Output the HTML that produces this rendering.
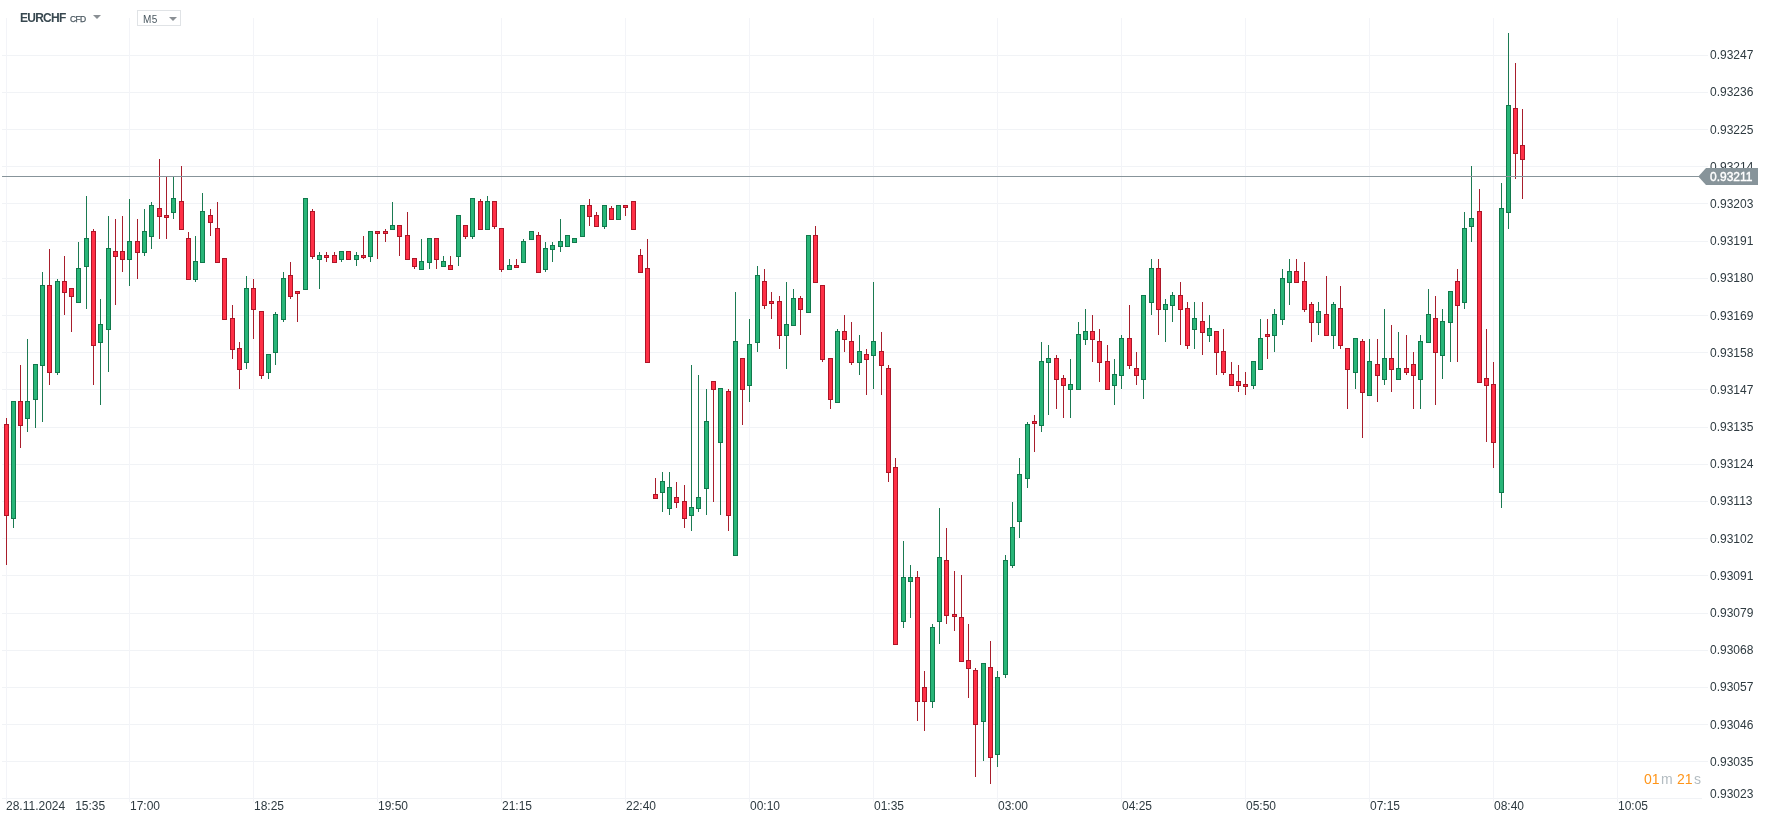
<!DOCTYPE html>
<html><head><meta charset="utf-8"><title>EURCHF M5</title>
<style>
html,body{margin:0;padding:0;background:#fff;}
body{width:1770px;height:824px;position:relative;overflow:hidden;font-family:"Liberation Sans",sans-serif;color:#2e3a40;}
.t{position:absolute;font-size:12px;line-height:14px;white-space:nowrap;will-change:transform;}
.pl{left:1710px;}
.tl{top:799px;}
</style></head><body>
<svg width="1770" height="824" viewBox="0 0 1770 824" shape-rendering="crispEdges" style="position:absolute;left:0;top:0">
<g fill="#f1f3f6"><rect x="2" y="55" width="1706" height="1"/><rect x="2" y="92" width="1706" height="1"/><rect x="2" y="129" width="1706" height="1"/><rect x="2" y="166" width="1706" height="1"/><rect x="2" y="203" width="1706" height="1"/><rect x="2" y="241" width="1706" height="1"/><rect x="2" y="278" width="1706" height="1"/><rect x="2" y="315" width="1706" height="1"/><rect x="2" y="352" width="1706" height="1"/><rect x="2" y="389" width="1706" height="1"/><rect x="2" y="427" width="1706" height="1"/><rect x="2" y="464" width="1706" height="1"/><rect x="2" y="501" width="1706" height="1"/><rect x="2" y="538" width="1706" height="1"/><rect x="2" y="575" width="1706" height="1"/><rect x="2" y="613" width="1706" height="1"/><rect x="2" y="650" width="1706" height="1"/><rect x="2" y="687" width="1706" height="1"/><rect x="2" y="724" width="1706" height="1"/><rect x="2" y="761" width="1706" height="1"/><rect x="2" y="798" width="1700" height="1"/><rect x="6" y="18" width="1" height="784" fill="#f3f4f8"/><rect x="129" y="18" width="1" height="784" fill="#f3f4f8"/><rect x="253" y="18" width="1" height="784" fill="#f3f4f8"/><rect x="377" y="18" width="1" height="784" fill="#f3f4f8"/><rect x="501" y="18" width="1" height="784" fill="#f3f4f8"/><rect x="625" y="18" width="1" height="784" fill="#f3f4f8"/><rect x="749" y="18" width="1" height="784" fill="#f3f4f8"/><rect x="873" y="18" width="1" height="784" fill="#f3f4f8"/><rect x="997" y="18" width="1" height="784" fill="#f3f4f8"/><rect x="1121" y="18" width="1" height="784" fill="#f3f4f8"/><rect x="1245" y="18" width="1" height="784" fill="#f3f4f8"/><rect x="1369" y="18" width="1" height="784" fill="#f3f4f8"/><rect x="1493" y="18" width="1" height="784" fill="#f3f4f8"/><rect x="1617" y="18" width="1" height="784" fill="#f3f4f8"/></g>
<g fill="#1b7a52"><rect x="13" y="401" width="1" height="127"/><rect x="27" y="339" width="1" height="93"/><rect x="35" y="364" width="1" height="64"/><rect x="42" y="272" width="1" height="150"/><rect x="57" y="279" width="1" height="96"/><rect x="78" y="242" width="1" height="61"/><rect x="86" y="196" width="1" height="113"/><rect x="100" y="299" width="1" height="106"/><rect x="108" y="216" width="1" height="156"/><rect x="129" y="199" width="1" height="87"/><rect x="144" y="209" width="1" height="47"/><rect x="151" y="202" width="1" height="47"/><rect x="173" y="176" width="1" height="43"/><rect x="195" y="236" width="1" height="46"/><rect x="202" y="193" width="1" height="70"/><rect x="246" y="276" width="1" height="93"/><rect x="268" y="354" width="1" height="25"/><rect x="275" y="312" width="1" height="53"/><rect x="283" y="272" width="1" height="50"/><rect x="305" y="198" width="1" height="92"/><rect x="319" y="252" width="1" height="37"/><rect x="341" y="251" width="1" height="11"/><rect x="356" y="252" width="1" height="14"/><rect x="370" y="231" width="1" height="31"/><rect x="392" y="202" width="1" height="28"/><rect x="421" y="239" width="1" height="31"/><rect x="429" y="238" width="1" height="31"/><rect x="443" y="256" width="1" height="11"/><rect x="458" y="215" width="1" height="51"/><rect x="472" y="198" width="1" height="41"/><rect x="487" y="196" width="1" height="34"/><rect x="509" y="259" width="1" height="11"/><rect x="523" y="239" width="1" height="24"/><rect x="531" y="231" width="1" height="9"/><rect x="545" y="242" width="1" height="30"/><rect x="552" y="242" width="1" height="20"/><rect x="560" y="219" width="1" height="33"/><rect x="567" y="235" width="1" height="12"/><rect x="574" y="238" width="1" height="5"/><rect x="582" y="205" width="1" height="32"/><rect x="604" y="205" width="1" height="24"/><rect x="618" y="205" width="1" height="15"/><rect x="662" y="472" width="1" height="40"/><rect x="669" y="472" width="1" height="43"/><rect x="691" y="365" width="1" height="166"/><rect x="698" y="375" width="1" height="137"/><rect x="706" y="389" width="1" height="126"/><rect x="720" y="388" width="1" height="127"/><rect x="735" y="292" width="1" height="264"/><rect x="749" y="319" width="1" height="83"/><rect x="757" y="266" width="1" height="86"/><rect x="786" y="282" width="1" height="87"/><rect x="793" y="289" width="1" height="37"/><rect x="808" y="235" width="1" height="78"/><rect x="837" y="329" width="1" height="74"/><rect x="859" y="335" width="1" height="40"/><rect x="873" y="282" width="1" height="107"/><rect x="903" y="541" width="1" height="87"/><rect x="910" y="565" width="1" height="53"/><rect x="932" y="624" width="1" height="84"/><rect x="939" y="508" width="1" height="136"/><rect x="983" y="663" width="1" height="98"/><rect x="997" y="671" width="1" height="96"/><rect x="1005" y="555" width="1" height="123"/><rect x="1012" y="502" width="1" height="66"/><rect x="1019" y="458" width="1" height="80"/><rect x="1027" y="422" width="1" height="66"/><rect x="1041" y="342" width="1" height="90"/><rect x="1048" y="345" width="1" height="70"/><rect x="1070" y="359" width="1" height="59"/><rect x="1078" y="322" width="1" height="68"/><rect x="1085" y="309" width="1" height="36"/><rect x="1114" y="359" width="1" height="46"/><rect x="1121" y="335" width="1" height="54"/><rect x="1143" y="295" width="1" height="104"/><rect x="1151" y="259" width="1" height="56"/><rect x="1165" y="299" width="1" height="43"/><rect x="1172" y="292" width="1" height="30"/><rect x="1194" y="302" width="1" height="47"/><rect x="1209" y="315" width="1" height="27"/><rect x="1253" y="361" width="1" height="28"/><rect x="1260" y="319" width="1" height="51"/><rect x="1274" y="309" width="1" height="43"/><rect x="1282" y="269" width="1" height="56"/><rect x="1289" y="259" width="1" height="46"/><rect x="1318" y="302" width="1" height="33"/><rect x="1333" y="302" width="1" height="47"/><rect x="1355" y="338" width="1" height="51"/><rect x="1369" y="339" width="1" height="57"/><rect x="1384" y="309" width="1" height="76"/><rect x="1398" y="332" width="1" height="48"/><rect x="1420" y="335" width="1" height="74"/><rect x="1428" y="289" width="1" height="54"/><rect x="1442" y="309" width="1" height="70"/><rect x="1450" y="291" width="1" height="71"/><rect x="1464" y="212" width="1" height="97"/><rect x="1471" y="166" width="1" height="76"/><rect x="1501" y="183" width="1" height="325"/><rect x="1508" y="33" width="1" height="196"/></g>
<g fill="#a81e2c"><rect x="6" y="418" width="1" height="147"/><rect x="20" y="365" width="1" height="83"/><rect x="49" y="249" width="1" height="136"/><rect x="64" y="256" width="1" height="59"/><rect x="71" y="288" width="1" height="44"/><rect x="93" y="229" width="1" height="156"/><rect x="115" y="219" width="1" height="86"/><rect x="122" y="216" width="1" height="56"/><rect x="137" y="219" width="1" height="60"/><rect x="159" y="159" width="1" height="80"/><rect x="166" y="176" width="1" height="63"/><rect x="181" y="166" width="1" height="64"/><rect x="188" y="232" width="1" height="48"/><rect x="210" y="209" width="1" height="27"/><rect x="217" y="202" width="1" height="61"/><rect x="224" y="258" width="1" height="62"/><rect x="232" y="305" width="1" height="54"/><rect x="239" y="342" width="1" height="47"/><rect x="253" y="279" width="1" height="60"/><rect x="261" y="311" width="1" height="68"/><rect x="290" y="262" width="1" height="37"/><rect x="297" y="291" width="1" height="31"/><rect x="312" y="209" width="1" height="50"/><rect x="326" y="252" width="1" height="10"/><rect x="334" y="252" width="1" height="11"/><rect x="348" y="251" width="1" height="9"/><rect x="363" y="236" width="1" height="23"/><rect x="377" y="231" width="1" height="28"/><rect x="385" y="229" width="1" height="13"/><rect x="399" y="225" width="1" height="31"/><rect x="407" y="212" width="1" height="48"/><rect x="414" y="258" width="1" height="11"/><rect x="436" y="238" width="1" height="31"/><rect x="450" y="256" width="1" height="14"/><rect x="465" y="225" width="1" height="14"/><rect x="480" y="199" width="1" height="31"/><rect x="494" y="201" width="1" height="28"/><rect x="501" y="228" width="1" height="44"/><rect x="516" y="259" width="1" height="9"/><rect x="538" y="232" width="1" height="41"/><rect x="589" y="199" width="1" height="27"/><rect x="596" y="212" width="1" height="15"/><rect x="611" y="206" width="1" height="14"/><rect x="625" y="205" width="1" height="11"/><rect x="633" y="201" width="1" height="29"/><rect x="640" y="249" width="1" height="24"/><rect x="647" y="239" width="1" height="124"/><rect x="655" y="478" width="1" height="21"/><rect x="676" y="482" width="1" height="26"/><rect x="684" y="485" width="1" height="43"/><rect x="713" y="381" width="1" height="121"/><rect x="728" y="389" width="1" height="142"/><rect x="742" y="358" width="1" height="67"/><rect x="764" y="269" width="1" height="40"/><rect x="771" y="292" width="1" height="27"/><rect x="779" y="296" width="1" height="53"/><rect x="800" y="296" width="1" height="39"/><rect x="815" y="226" width="1" height="57"/><rect x="822" y="285" width="1" height="77"/><rect x="830" y="358" width="1" height="51"/><rect x="844" y="315" width="1" height="37"/><rect x="851" y="322" width="1" height="43"/><rect x="866" y="349" width="1" height="46"/><rect x="881" y="332" width="1" height="63"/><rect x="888" y="365" width="1" height="117"/><rect x="895" y="458" width="1" height="187"/><rect x="917" y="571" width="1" height="150"/><rect x="924" y="671" width="1" height="60"/><rect x="946" y="528" width="1" height="96"/><rect x="954" y="571" width="1" height="60"/><rect x="961" y="575" width="1" height="87"/><rect x="968" y="624" width="1" height="74"/><rect x="975" y="668" width="1" height="109"/><rect x="990" y="641" width="1" height="143"/><rect x="1034" y="415" width="1" height="37"/><rect x="1056" y="355" width="1" height="54"/><rect x="1063" y="375" width="1" height="43"/><rect x="1092" y="315" width="1" height="47"/><rect x="1099" y="329" width="1" height="53"/><rect x="1107" y="345" width="1" height="45"/><rect x="1129" y="305" width="1" height="64"/><rect x="1136" y="352" width="1" height="33"/><rect x="1158" y="259" width="1" height="76"/><rect x="1180" y="282" width="1" height="63"/><rect x="1187" y="302" width="1" height="47"/><rect x="1202" y="302" width="1" height="53"/><rect x="1216" y="331" width="1" height="44"/><rect x="1223" y="329" width="1" height="46"/><rect x="1231" y="362" width="1" height="24"/><rect x="1238" y="365" width="1" height="27"/><rect x="1245" y="372" width="1" height="23"/><rect x="1267" y="319" width="1" height="40"/><rect x="1296" y="259" width="1" height="24"/><rect x="1304" y="262" width="1" height="50"/><rect x="1311" y="302" width="1" height="40"/><rect x="1326" y="276" width="1" height="60"/><rect x="1340" y="286" width="1" height="63"/><rect x="1347" y="348" width="1" height="61"/><rect x="1362" y="339" width="1" height="99"/><rect x="1377" y="339" width="1" height="63"/><rect x="1391" y="325" width="1" height="67"/><rect x="1406" y="335" width="1" height="40"/><rect x="1413" y="352" width="1" height="57"/><rect x="1435" y="296" width="1" height="109"/><rect x="1457" y="269" width="1" height="93"/><rect x="1479" y="189" width="1" height="194"/><rect x="1486" y="329" width="1" height="113"/><rect x="1493" y="362" width="1" height="106"/><rect x="1515" y="63" width="1" height="116"/><rect x="1522" y="109" width="1" height="90"/></g>
<g fill="#11794c"><rect x="11" y="401" width="5" height="118"/><rect x="25" y="401" width="5" height="18"/><rect x="33" y="364" width="5" height="36"/><rect x="40" y="285" width="5" height="81"/><rect x="55" y="281" width="5" height="92"/><rect x="76" y="268" width="5" height="35"/><rect x="84" y="238" width="5" height="29"/><rect x="98" y="324" width="5" height="19"/><rect x="106" y="248" width="5" height="82"/><rect x="127" y="241" width="5" height="19"/><rect x="142" y="231" width="5" height="22"/><rect x="149" y="205" width="5" height="32"/><rect x="171" y="198" width="5" height="15"/><rect x="193" y="261" width="5" height="19"/><rect x="200" y="211" width="5" height="52"/><rect x="244" y="288" width="5" height="75"/><rect x="266" y="354" width="5" height="19"/><rect x="273" y="314" width="5" height="39"/><rect x="281" y="278" width="5" height="42"/><rect x="303" y="198" width="5" height="92"/><rect x="317" y="255" width="5" height="5"/><rect x="339" y="251" width="5" height="9"/><rect x="354" y="255" width="5" height="5"/><rect x="368" y="231" width="5" height="26"/><rect x="390" y="225" width="5" height="5"/><rect x="419" y="261" width="5" height="9"/><rect x="427" y="238" width="5" height="25"/><rect x="441" y="261" width="5" height="6"/><rect x="456" y="215" width="5" height="42"/><rect x="470" y="198" width="5" height="39"/><rect x="485" y="201" width="5" height="29"/><rect x="507" y="265" width="5" height="5"/><rect x="521" y="241" width="5" height="22"/><rect x="529" y="231" width="5" height="9"/><rect x="543" y="248" width="5" height="22"/><rect x="550" y="245" width="5" height="5"/><rect x="558" y="241" width="5" height="6"/><rect x="565" y="235" width="5" height="12"/><rect x="572" y="238" width="5" height="5"/><rect x="580" y="205" width="5" height="32"/><rect x="602" y="205" width="5" height="22"/><rect x="616" y="205" width="5" height="15"/><rect x="660" y="481" width="5" height="12"/><rect x="667" y="487" width="5" height="22"/><rect x="689" y="507" width="5" height="9"/><rect x="696" y="497" width="5" height="12"/><rect x="704" y="421" width="5" height="68"/><rect x="718" y="388" width="5" height="55"/><rect x="733" y="341" width="5" height="215"/><rect x="747" y="344" width="5" height="42"/><rect x="755" y="275" width="5" height="68"/><rect x="784" y="324" width="5" height="12"/><rect x="791" y="298" width="5" height="28"/><rect x="806" y="235" width="5" height="78"/><rect x="835" y="331" width="5" height="72"/><rect x="857" y="351" width="5" height="12"/><rect x="871" y="341" width="5" height="15"/><rect x="901" y="577" width="5" height="45"/><rect x="908" y="577" width="5" height="5"/><rect x="930" y="627" width="5" height="75"/><rect x="937" y="557" width="5" height="65"/><rect x="981" y="663" width="5" height="59"/><rect x="995" y="677" width="5" height="78"/><rect x="1003" y="560" width="5" height="115"/><rect x="1010" y="527" width="5" height="39"/><rect x="1017" y="474" width="5" height="48"/><rect x="1025" y="424" width="5" height="55"/><rect x="1039" y="361" width="5" height="65"/><rect x="1046" y="358" width="5" height="5"/><rect x="1068" y="384" width="5" height="6"/><rect x="1076" y="334" width="5" height="56"/><rect x="1083" y="331" width="5" height="9"/><rect x="1112" y="374" width="5" height="12"/><rect x="1119" y="338" width="5" height="38"/><rect x="1141" y="295" width="5" height="85"/><rect x="1149" y="268" width="5" height="35"/><rect x="1163" y="304" width="5" height="6"/><rect x="1170" y="295" width="5" height="11"/><rect x="1192" y="318" width="5" height="12"/><rect x="1207" y="328" width="5" height="8"/><rect x="1251" y="361" width="5" height="25"/><rect x="1258" y="338" width="5" height="32"/><rect x="1272" y="314" width="5" height="22"/><rect x="1280" y="278" width="5" height="42"/><rect x="1287" y="271" width="5" height="12"/><rect x="1316" y="311" width="5" height="12"/><rect x="1331" y="304" width="5" height="32"/><rect x="1353" y="338" width="5" height="35"/><rect x="1367" y="361" width="5" height="35"/><rect x="1382" y="358" width="5" height="22"/><rect x="1396" y="368" width="5" height="12"/><rect x="1418" y="341" width="5" height="39"/><rect x="1426" y="314" width="5" height="29"/><rect x="1440" y="321" width="5" height="35"/><rect x="1448" y="291" width="5" height="32"/><rect x="1462" y="228" width="5" height="75"/><rect x="1469" y="218" width="5" height="9"/><rect x="1499" y="208" width="5" height="285"/><rect x="1506" y="105" width="5" height="108"/></g>
<g fill="#ac1627"><rect x="4" y="424" width="5" height="92"/><rect x="18" y="401" width="5" height="25"/><rect x="47" y="285" width="5" height="88"/><rect x="62" y="281" width="5" height="12"/><rect x="69" y="288" width="5" height="9"/><rect x="91" y="231" width="5" height="115"/><rect x="113" y="251" width="5" height="6"/><rect x="120" y="251" width="5" height="9"/><rect x="135" y="241" width="5" height="12"/><rect x="157" y="208" width="5" height="9"/><rect x="164" y="215" width="5" height="3"/><rect x="179" y="201" width="5" height="29"/><rect x="186" y="238" width="5" height="42"/><rect x="208" y="215" width="5" height="8"/><rect x="215" y="228" width="5" height="35"/><rect x="222" y="258" width="5" height="62"/><rect x="230" y="318" width="5" height="32"/><rect x="237" y="348" width="5" height="22"/><rect x="251" y="288" width="5" height="22"/><rect x="259" y="311" width="5" height="65"/><rect x="288" y="275" width="5" height="22"/><rect x="295" y="291" width="5" height="3"/><rect x="310" y="211" width="5" height="46"/><rect x="324" y="255" width="5" height="3"/><rect x="332" y="255" width="5" height="8"/><rect x="346" y="251" width="5" height="9"/><rect x="361" y="255" width="5" height="3"/><rect x="375" y="231" width="5" height="3"/><rect x="383" y="231" width="5" height="3"/><rect x="397" y="225" width="5" height="12"/><rect x="405" y="235" width="5" height="25"/><rect x="412" y="258" width="5" height="9"/><rect x="434" y="238" width="5" height="22"/><rect x="448" y="265" width="5" height="5"/><rect x="463" y="225" width="5" height="12"/><rect x="478" y="201" width="5" height="29"/><rect x="492" y="201" width="5" height="26"/><rect x="499" y="228" width="5" height="42"/><rect x="514" y="265" width="5" height="3"/><rect x="536" y="235" width="5" height="38"/><rect x="587" y="205" width="5" height="12"/><rect x="594" y="215" width="5" height="12"/><rect x="609" y="208" width="5" height="12"/><rect x="623" y="205" width="5" height="3"/><rect x="631" y="201" width="5" height="29"/><rect x="638" y="255" width="5" height="18"/><rect x="645" y="268" width="5" height="95"/><rect x="653" y="494" width="5" height="5"/><rect x="674" y="497" width="5" height="6"/><rect x="682" y="501" width="5" height="18"/><rect x="711" y="381" width="5" height="9"/><rect x="726" y="391" width="5" height="125"/><rect x="740" y="358" width="5" height="32"/><rect x="762" y="281" width="5" height="25"/><rect x="769" y="301" width="5" height="3"/><rect x="777" y="301" width="5" height="35"/><rect x="798" y="298" width="5" height="12"/><rect x="813" y="235" width="5" height="48"/><rect x="820" y="285" width="5" height="75"/><rect x="828" y="358" width="5" height="42"/><rect x="842" y="331" width="5" height="9"/><rect x="849" y="341" width="5" height="22"/><rect x="864" y="354" width="5" height="6"/><rect x="879" y="351" width="5" height="15"/><rect x="886" y="368" width="5" height="105"/><rect x="893" y="467" width="5" height="178"/><rect x="915" y="577" width="5" height="125"/><rect x="922" y="687" width="5" height="15"/><rect x="944" y="560" width="5" height="56"/><rect x="952" y="614" width="5" height="3"/><rect x="959" y="617" width="5" height="45"/><rect x="966" y="660" width="5" height="9"/><rect x="973" y="670" width="5" height="55"/><rect x="988" y="667" width="5" height="91"/><rect x="1032" y="421" width="5" height="3"/><rect x="1054" y="358" width="5" height="22"/><rect x="1061" y="378" width="5" height="8"/><rect x="1090" y="331" width="5" height="9"/><rect x="1097" y="341" width="5" height="22"/><rect x="1105" y="361" width="5" height="29"/><rect x="1127" y="338" width="5" height="28"/><rect x="1134" y="368" width="5" height="8"/><rect x="1156" y="268" width="5" height="42"/><rect x="1178" y="295" width="5" height="15"/><rect x="1185" y="308" width="5" height="38"/><rect x="1200" y="321" width="5" height="12"/><rect x="1214" y="331" width="5" height="22"/><rect x="1221" y="351" width="5" height="22"/><rect x="1229" y="374" width="5" height="12"/><rect x="1236" y="381" width="5" height="5"/><rect x="1243" y="384" width="5" height="3"/><rect x="1265" y="334" width="5" height="3"/><rect x="1294" y="271" width="5" height="12"/><rect x="1302" y="281" width="5" height="29"/><rect x="1309" y="304" width="5" height="19"/><rect x="1324" y="314" width="5" height="22"/><rect x="1338" y="308" width="5" height="38"/><rect x="1345" y="348" width="5" height="22"/><rect x="1360" y="341" width="5" height="52"/><rect x="1375" y="364" width="5" height="12"/><rect x="1389" y="358" width="5" height="12"/><rect x="1404" y="368" width="5" height="5"/><rect x="1411" y="364" width="5" height="12"/><rect x="1433" y="318" width="5" height="35"/><rect x="1455" y="281" width="5" height="25"/><rect x="1477" y="211" width="5" height="172"/><rect x="1484" y="378" width="5" height="8"/><rect x="1491" y="384" width="5" height="59"/><rect x="1513" y="108" width="5" height="46"/><rect x="1520" y="145" width="5" height="15"/></g>
<g fill="#28b578"><rect x="12" y="402" width="3" height="116"/><rect x="26" y="402" width="3" height="16"/><rect x="34" y="365" width="3" height="34"/><rect x="41" y="286" width="3" height="79"/><rect x="56" y="282" width="3" height="90"/><rect x="77" y="269" width="3" height="33"/><rect x="85" y="239" width="3" height="27"/><rect x="99" y="325" width="3" height="17"/><rect x="107" y="249" width="3" height="80"/><rect x="128" y="242" width="3" height="17"/><rect x="143" y="232" width="3" height="20"/><rect x="150" y="206" width="3" height="30"/><rect x="172" y="199" width="3" height="13"/><rect x="194" y="262" width="3" height="17"/><rect x="201" y="212" width="3" height="50"/><rect x="245" y="289" width="3" height="73"/><rect x="267" y="355" width="3" height="17"/><rect x="274" y="315" width="3" height="37"/><rect x="282" y="279" width="3" height="40"/><rect x="304" y="199" width="3" height="90"/><rect x="318" y="256" width="3" height="3"/><rect x="340" y="252" width="3" height="7"/><rect x="355" y="256" width="3" height="3"/><rect x="369" y="232" width="3" height="24"/><rect x="391" y="226" width="3" height="3"/><rect x="420" y="262" width="3" height="7"/><rect x="428" y="239" width="3" height="23"/><rect x="442" y="262" width="3" height="4"/><rect x="457" y="216" width="3" height="40"/><rect x="471" y="199" width="3" height="37"/><rect x="486" y="202" width="3" height="27"/><rect x="508" y="266" width="3" height="3"/><rect x="522" y="242" width="3" height="20"/><rect x="530" y="232" width="3" height="7"/><rect x="544" y="249" width="3" height="20"/><rect x="551" y="246" width="3" height="3"/><rect x="559" y="242" width="3" height="4"/><rect x="566" y="236" width="3" height="10"/><rect x="573" y="239" width="3" height="3"/><rect x="581" y="206" width="3" height="30"/><rect x="603" y="206" width="3" height="20"/><rect x="617" y="206" width="3" height="13"/><rect x="661" y="482" width="3" height="10"/><rect x="668" y="488" width="3" height="20"/><rect x="690" y="508" width="3" height="7"/><rect x="697" y="498" width="3" height="10"/><rect x="705" y="422" width="3" height="66"/><rect x="719" y="389" width="3" height="53"/><rect x="734" y="342" width="3" height="213"/><rect x="748" y="345" width="3" height="40"/><rect x="756" y="276" width="3" height="66"/><rect x="785" y="325" width="3" height="10"/><rect x="792" y="299" width="3" height="26"/><rect x="807" y="236" width="3" height="76"/><rect x="836" y="332" width="3" height="70"/><rect x="858" y="352" width="3" height="10"/><rect x="872" y="342" width="3" height="13"/><rect x="902" y="578" width="3" height="43"/><rect x="909" y="578" width="3" height="3"/><rect x="931" y="628" width="3" height="73"/><rect x="938" y="558" width="3" height="63"/><rect x="982" y="664" width="3" height="57"/><rect x="996" y="678" width="3" height="76"/><rect x="1004" y="561" width="3" height="113"/><rect x="1011" y="528" width="3" height="37"/><rect x="1018" y="475" width="3" height="46"/><rect x="1026" y="425" width="3" height="53"/><rect x="1040" y="362" width="3" height="63"/><rect x="1047" y="359" width="3" height="3"/><rect x="1069" y="385" width="3" height="4"/><rect x="1077" y="335" width="3" height="54"/><rect x="1084" y="332" width="3" height="7"/><rect x="1113" y="375" width="3" height="10"/><rect x="1120" y="339" width="3" height="36"/><rect x="1142" y="296" width="3" height="83"/><rect x="1150" y="269" width="3" height="33"/><rect x="1164" y="305" width="3" height="4"/><rect x="1171" y="296" width="3" height="9"/><rect x="1193" y="319" width="3" height="10"/><rect x="1208" y="329" width="3" height="6"/><rect x="1252" y="362" width="3" height="23"/><rect x="1259" y="339" width="3" height="30"/><rect x="1273" y="315" width="3" height="20"/><rect x="1281" y="279" width="3" height="40"/><rect x="1288" y="272" width="3" height="10"/><rect x="1317" y="312" width="3" height="10"/><rect x="1332" y="305" width="3" height="30"/><rect x="1354" y="339" width="3" height="33"/><rect x="1368" y="362" width="3" height="33"/><rect x="1383" y="359" width="3" height="20"/><rect x="1397" y="369" width="3" height="10"/><rect x="1419" y="342" width="3" height="37"/><rect x="1427" y="315" width="3" height="27"/><rect x="1441" y="322" width="3" height="33"/><rect x="1449" y="292" width="3" height="30"/><rect x="1463" y="229" width="3" height="73"/><rect x="1470" y="219" width="3" height="7"/><rect x="1500" y="209" width="3" height="283"/><rect x="1507" y="106" width="3" height="106"/></g>
<g fill="#ff3046"><rect x="5" y="425" width="3" height="90"/><rect x="19" y="402" width="3" height="23"/><rect x="48" y="286" width="3" height="86"/><rect x="63" y="282" width="3" height="10"/><rect x="70" y="289" width="3" height="7"/><rect x="92" y="232" width="3" height="113"/><rect x="114" y="252" width="3" height="4"/><rect x="121" y="252" width="3" height="7"/><rect x="136" y="242" width="3" height="10"/><rect x="158" y="209" width="3" height="7"/><rect x="165" y="216" width="3" height="1"/><rect x="180" y="202" width="3" height="27"/><rect x="187" y="239" width="3" height="40"/><rect x="209" y="216" width="3" height="6"/><rect x="216" y="229" width="3" height="33"/><rect x="223" y="259" width="3" height="60"/><rect x="231" y="319" width="3" height="30"/><rect x="238" y="349" width="3" height="20"/><rect x="252" y="289" width="3" height="20"/><rect x="260" y="312" width="3" height="63"/><rect x="289" y="276" width="3" height="20"/><rect x="296" y="292" width="3" height="1"/><rect x="311" y="212" width="3" height="44"/><rect x="325" y="256" width="3" height="1"/><rect x="333" y="256" width="3" height="6"/><rect x="347" y="252" width="3" height="7"/><rect x="362" y="256" width="3" height="1"/><rect x="376" y="232" width="3" height="1"/><rect x="384" y="232" width="3" height="1"/><rect x="398" y="226" width="3" height="10"/><rect x="406" y="236" width="3" height="23"/><rect x="413" y="259" width="3" height="7"/><rect x="435" y="239" width="3" height="20"/><rect x="449" y="266" width="3" height="3"/><rect x="464" y="226" width="3" height="10"/><rect x="479" y="202" width="3" height="27"/><rect x="493" y="202" width="3" height="24"/><rect x="500" y="229" width="3" height="40"/><rect x="515" y="266" width="3" height="1"/><rect x="537" y="236" width="3" height="36"/><rect x="588" y="206" width="3" height="10"/><rect x="595" y="216" width="3" height="10"/><rect x="610" y="209" width="3" height="10"/><rect x="624" y="206" width="3" height="1"/><rect x="632" y="202" width="3" height="27"/><rect x="639" y="256" width="3" height="16"/><rect x="646" y="269" width="3" height="93"/><rect x="654" y="495" width="3" height="3"/><rect x="675" y="498" width="3" height="4"/><rect x="683" y="502" width="3" height="16"/><rect x="712" y="382" width="3" height="7"/><rect x="727" y="392" width="3" height="123"/><rect x="741" y="359" width="3" height="30"/><rect x="763" y="282" width="3" height="23"/><rect x="770" y="302" width="3" height="1"/><rect x="778" y="302" width="3" height="33"/><rect x="799" y="299" width="3" height="10"/><rect x="814" y="236" width="3" height="46"/><rect x="821" y="286" width="3" height="73"/><rect x="829" y="359" width="3" height="40"/><rect x="843" y="332" width="3" height="7"/><rect x="850" y="342" width="3" height="20"/><rect x="865" y="355" width="3" height="4"/><rect x="880" y="352" width="3" height="13"/><rect x="887" y="369" width="3" height="103"/><rect x="894" y="468" width="3" height="176"/><rect x="916" y="578" width="3" height="123"/><rect x="923" y="688" width="3" height="13"/><rect x="945" y="561" width="3" height="54"/><rect x="953" y="615" width="3" height="1"/><rect x="960" y="618" width="3" height="43"/><rect x="967" y="661" width="3" height="7"/><rect x="974" y="671" width="3" height="53"/><rect x="989" y="668" width="3" height="89"/><rect x="1033" y="422" width="3" height="1"/><rect x="1055" y="359" width="3" height="20"/><rect x="1062" y="379" width="3" height="6"/><rect x="1091" y="332" width="3" height="7"/><rect x="1098" y="342" width="3" height="20"/><rect x="1106" y="362" width="3" height="27"/><rect x="1128" y="339" width="3" height="26"/><rect x="1135" y="369" width="3" height="6"/><rect x="1157" y="269" width="3" height="40"/><rect x="1179" y="296" width="3" height="13"/><rect x="1186" y="309" width="3" height="36"/><rect x="1201" y="322" width="3" height="10"/><rect x="1215" y="332" width="3" height="20"/><rect x="1222" y="352" width="3" height="20"/><rect x="1230" y="375" width="3" height="10"/><rect x="1237" y="382" width="3" height="3"/><rect x="1244" y="385" width="3" height="1"/><rect x="1266" y="335" width="3" height="1"/><rect x="1295" y="272" width="3" height="10"/><rect x="1303" y="282" width="3" height="27"/><rect x="1310" y="305" width="3" height="17"/><rect x="1325" y="315" width="3" height="20"/><rect x="1339" y="309" width="3" height="36"/><rect x="1346" y="349" width="3" height="20"/><rect x="1361" y="342" width="3" height="50"/><rect x="1376" y="365" width="3" height="10"/><rect x="1390" y="359" width="3" height="10"/><rect x="1405" y="369" width="3" height="3"/><rect x="1412" y="365" width="3" height="10"/><rect x="1434" y="319" width="3" height="33"/><rect x="1456" y="282" width="3" height="23"/><rect x="1478" y="212" width="3" height="170"/><rect x="1485" y="379" width="3" height="6"/><rect x="1492" y="385" width="3" height="57"/><rect x="1514" y="109" width="3" height="44"/><rect x="1521" y="146" width="3" height="13"/></g>
<rect x="2" y="176" width="1700" height="1" fill="#87949a"/>
</svg>
<div class="t pl" style="top:48px">0.93247</div>
<div class="t pl" style="top:85px">0.93236</div>
<div class="t pl" style="top:123px">0.93225</div>
<div class="t pl" style="top:160px">0.93214</div>
<div class="t pl" style="top:197px">0.93203</div>
<div class="t pl" style="top:234px">0.93191</div>
<div class="t pl" style="top:271px">0.93180</div>
<div class="t pl" style="top:309px">0.93169</div>
<div class="t pl" style="top:346px">0.93158</div>
<div class="t pl" style="top:383px">0.93147</div>
<div class="t pl" style="top:420px">0.93135</div>
<div class="t pl" style="top:457px">0.93124</div>
<div class="t pl" style="top:494px">0.93113</div>
<div class="t pl" style="top:532px">0.93102</div>
<div class="t pl" style="top:569px">0.93091</div>
<div class="t pl" style="top:606px">0.93079</div>
<div class="t pl" style="top:643px">0.93068</div>
<div class="t pl" style="top:680px">0.93057</div>
<div class="t pl" style="top:718px">0.93046</div>
<div class="t pl" style="top:755px">0.93035</div>
<div class="t pl" style="top:787px">0.93023</div>
<svg width="70" height="24" viewBox="1695 164 70 24" style="position:absolute;left:1695px;top:164px"><path d="M1698.3 176.5 L1706 168 H1758 V185 H1706 Z" fill="#87949a"/></svg>
<div class="t" style="left:1710px;top:170px;color:#fff;-webkit-text-stroke:0.4px #fff;">0.93211</div>
<div class="t tl" style="left:6px">28.11.2024&nbsp;&nbsp;&nbsp;15:35</div>
<div class="t tl" style="left:130px">17:00</div>
<div class="t tl" style="left:254px">18:25</div>
<div class="t tl" style="left:378px">19:50</div>
<div class="t tl" style="left:502px">21:15</div>
<div class="t tl" style="left:626px">22:40</div>
<div class="t tl" style="left:750px">00:10</div>
<div class="t tl" style="left:874px">01:35</div>
<div class="t tl" style="left:998px">03:00</div>
<div class="t tl" style="left:1122px">04:25</div>
<div class="t tl" style="left:1246px">05:50</div>
<div class="t tl" style="left:1370px">07:15</div>
<div class="t tl" style="left:1494px">08:40</div>
<div class="t tl" style="left:1618px">10:05</div>
<div class="t" style="left:1643.6px;top:771px;font-size:14px;line-height:16px;color:#ff9519">01</div>
<div class="t" style="left:1661px;top:771px;font-size:14px;line-height:16px;color:#b3bcc1">m</div>
<div class="t" style="left:1677px;top:771px;font-size:14px;line-height:16px;color:#ff9519">21</div>
<div class="t" style="left:1694px;top:771px;font-size:14px;line-height:16px;color:#b3bcc1">s</div>
<div class="t" style="left:20px;top:11px;font-weight:bold;font-size:12px;letter-spacing:-0.75px;color:#37474f">EURCHF</div>
<div class="t" style="left:70px;top:14px;font-size:8.5px;line-height:10px;letter-spacing:-0.7px;color:#4d5a62;-webkit-text-stroke:0.25px #4d5a62">CFD</div>
<div style="position:absolute;left:93px;top:15px;width:0;height:0;border-left:4px solid transparent;border-right:4px solid transparent;border-top:4px solid #8a8f94"></div>
<div style="position:absolute;left:137px;top:10px;width:42px;height:14px;border:1px solid #e0e3e6;background:#fff"></div>
<div class="t" style="left:143px;top:13px;font-size:10px;letter-spacing:0.4px;color:#4a5860">M5</div>
<div style="position:absolute;left:169px;top:17px;width:0;height:0;border-left:4px solid transparent;border-right:4px solid transparent;border-top:4px solid #8a8f94"></div>
</body></html>
